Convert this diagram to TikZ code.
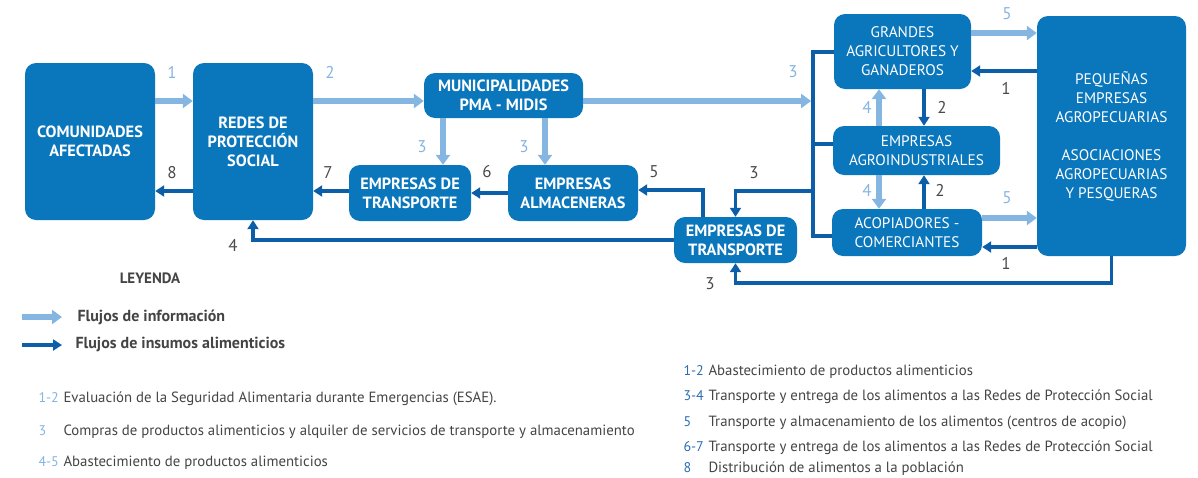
\documentclass[tikz,border=0pt]{standalone}
\usepackage{fontspec}
\setmainfont{PT Sans}
\usetikzlibrary{arrows.meta,calc}
\definecolor{cajaazul}{HTML}{0A77BD}
\definecolor{infoazul}{HTML}{85B5E1}
\definecolor{insumoazul}{HTML}{0C5EA8}
\definecolor{numgris}{HTML}{4A4A4A}
\definecolor{textogris}{HTML}{444444}
\definecolor{listaazul}{HTML}{2B6CB3}
\tikzset{
  caja/.style={fill=cajaazul, text=white, rounded corners=11pt, align=center,
    inner sep=0pt, font=\fontsize{15.3}{19}\selectfont},
  cajab/.style={caja, font=\fontsize{16.3}{19}\selectfont\bfseries},
  info/.style={draw=infoazul, line width=5.5pt, -{Triangle[length=10pt,width=14pt]}},
  insumo/.style={draw=insumoazul, line width=3.5pt, -{Triangle[length=9pt,width=11pt]}},
  barra/.style={draw=insumoazul, line width=3.5pt},
  numi/.style={text=infoazul, font=\fontsize{17}{19}\selectfont},
  numd/.style={text=numgris, font=\fontsize{17}{19}\selectfont},
  leyenda/.style={anchor=base west, text=textogris, font=\fontsize{14.8}{17}\selectfont},
  numlista/.style={leyenda, font=\fontsize{14}{17}\selectfont},
}
\begin{document}
\begin{tikzpicture}[x=1pt, y=-1pt]
    \useasboundingbox (0,0) rectangle (1198,477);
    %------------Cajas----------
    \node[cajab, minimum width=130pt, minimum height=157pt] (comun) at (90,141.5) {COMUNIDADES\\AFECTADAS};
    \node[cajab, minimum width=120pt, minimum height=157pt] (redes) at (253,141.5) {REDES DE\\PROTECCIÓN\\SOCIAL};
    \node[cajab, minimum width=159pt, minimum height=45pt] (muni) at (503.5,95.5) {MUNICIPALIDADES\\PMA - MIDIS};
    \node[cajab, minimum width=122pt, minimum height=56pt] (trans1) at (410,193) {EMPRESAS DE\\TRANSPORTE};
    \node[cajab, minimum width=130pt, minimum height=56pt] (alma) at (573,193) {EMPRESAS\\ALMACENERAS};
    \node[cajab, minimum width=123pt, minimum height=46pt] (trans2) at (735.5,240) {EMPRESAS DE\\TRANSPORTE};
    \node[caja, minimum width=137pt, minimum height=75pt] (grandes) at (902.5,51.5) {GRANDES\\AGRICULTORES Y\\GANADEROS};
    \node[caja, minimum width=167pt, minimum height=49pt] (agro) at (916.5,150.5) {EMPRESAS\\AGROINDUSTRIALES};
    \node[caja, minimum width=150pt, minimum height=47pt] (acop) at (907,232.5) {ACOPIADORES -\\COMERCIANTES};
    \node[caja, minimum width=149pt, minimum height=240pt] (peq) at (1111.5,136) {PEQUEÑAS\\EMPRESAS\\AGROPECUARIAS\\[19pt]ASOCIACIONES\\AGROPECUARIAS\\Y PESQUERAS};
    %------------Flujos de informacion----------
    \draw[info] (comun.east |- 0,101) -- (redes.west |- 0,101);
    \draw[info] (redes.east |- 0,101) -- (muni.west |- 0,101);
    \draw[info] (muni.east |- 0,101) -- (811,101);
    \draw[info] (muni.south -| 443,0) -- (trans1.north -| 443,0);
    \draw[info] (muni.south -| 545,0) -- (alma.north -| 545,0);
    \draw[info] (grandes.east |- 0,33) -- (peq.west |- 0,33);
    \draw[info] (acop.east |- 0,218) -- (peq.west |- 0,218);
    \draw[info] (agro.north -| 879,0) -- (grandes.south -| 879,0);
    \draw[info] (agro.south -| 879,0) -- (acop.north -| 879,0);
    %------------Flujos de insumos----------
    \coordinate (bsup) at (813,52);
    \coordinate (binf) at (813,236);
    \draw[barra] (grandes.west |- bsup) -- (bsup) -- (binf) -- (acop.west |- binf);
    \draw[barra] (agro.west |- 0,144) -- (bsup |- 0,144);
    \draw[insumo] (bsup |- 0,191) -| (trans2.north);
    \draw[insumo] (trans2.north -| 703,0) |- (alma.east |- 0,190);
    \draw[insumo] (alma.west) -- (trans1.east);
    \draw[insumo] (trans1.west |- 0,191) -- (redes.east |- 0,191);
    \draw[insumo] (redes.west |- 0,191) -- (comun.east |- 0,191);
    \draw[insumo] (trans2.west) -| (redes.south);
    \draw[insumo] (peq.south) -- ++(0,27) -| (trans2.south);
    \draw[insumo] (peq.west |- 0,71) -- (grandes.east |- 0,71);
    \draw[insumo] (peq.west |- 0,247) -- (acop.east |- 0,247);
    \draw[insumo] (grandes.south -| 924,0) -- (agro.north -| 924,0);
    \draw[insumo] (acop.north -| 924,0) -- (agro.south -| 924,0);
    %------------Numeros----------
    \foreach \t/\x/\y [count=\i] in {1/172/72, 2/330/72, 3/793/72, 3/422/147, 3/524/147,
        5/1007/14, 5/1007/198, 4/867/107, 4/867/190} {
        \node[numi] (ni\i) at (\x,\y) {\t};
    }
    \foreach \t/\x/\y [count=\i] in {8/172/173, 7/328/173, 6/487/172, 5/654/172, 3/754/173,
        4/233/245, 3/710/284, 1/1006/88, 1/1006/263, 2/942/107, 2/940/190} {
        \node[numd] (nd\i) at (\x,\y) {\t};
    }
    %------------Leyenda----------
    \node[text=textogris, font=\fontsize{15}{17}\selectfont\bfseries] (ley) at (150,278) {LEYENDA};
    \coordinate (li1) at (22,317);
    \coordinate (lf1) at (62,317);
    \coordinate (li2) at (22,345);
    \coordinate (lf2) at (62,345);
    \draw[info] (li1) -- (lf1);
    \draw[insumo] (li2) -- (lf2);
    \node[leyenda, font=\fontsize{16}{18}\selectfont\bfseries] (fl1) at (74,321) {Flujos de información};
    \node[leyenda, font=\fontsize{16}{18}\selectfont\bfseries] (fl2) at (72,348) {Flujos de insumos alimenticios};
    \foreach \n/\t/\y [count=\i] in {1-2/Evaluación de la Seguridad Alimentaria durante Emergencias (ESAE)./402,
        3/Compras de productos alimenticios y alquiler de servicios de transporte y almacenamiento/435,
        4-5/Abastecimiento de productos alimenticios/466} {
        \node[numlista, text=infoazul] (izqn\i) at (35,\y) {\n};
        \node[leyenda] (izqt\i) at (60,\y) {\t};
    }
    \foreach \n/\t/\y [count=\i] in {1-2/Abastecimiento de productos alimenticios/375,
        3-4/Transporte y entrega de los alimentos a las Redes de Protección Social/400,
        5/Transporte y almacenamiento de los alimentos (centros de acopio)/426,
        6-7/Transporte y entrega de los alimentos a las Redes de Protección Social/451,
        8/Distribución de alimentos a la población/472} {
        \node[numlista, text=listaazul] (dern\i) at (680,\y) {\n};
        \node[leyenda] (dert\i) at (705,\y) {\t};
    }
\end{tikzpicture}
\end{document}
